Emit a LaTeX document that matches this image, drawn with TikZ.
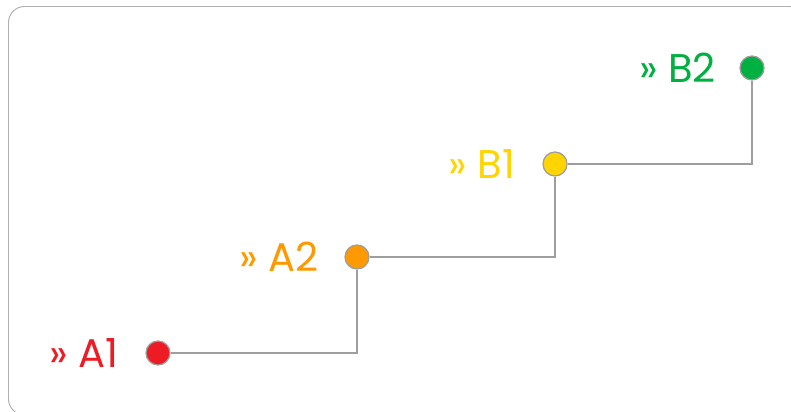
\documentclass[tikz,border=0pt]{standalone}
\usepackage{fontspec}
\setmainfont{Poppins}
\usetikzlibrary{positioning}

\definecolor{stepred}{RGB}{237,28,36}
\definecolor{steporange}{RGB}{255,153,0}
\definecolor{stepyellow}{RGB}{255,212,0}
\definecolor{stepgreen}{RGB}{0,176,64}
\definecolor{linegray}{RGB}{158,158,158}
\definecolor{framegray}{RGB}{176,176,176}

\begin{document}
\begin{tikzpicture}[x=0.025cm, y=-0.025cm,
    dot/.style={circle, draw=linegray, line width=0.9pt, minimum size=0.6cm, inner sep=0pt},
    link/.style={draw=linegray, line width=0.8pt},
    tag/.style={font=\fontsize{28.5}{32}\selectfont, inner sep=0pt}]
    \useasboundingbox (0,0) rectangle (791,412);

    % frame (runs off the right and bottom edges)
    \draw[framegray, line width=0.7pt, rounded corners=0.4cm] (8.5,6.5) rectangle (806,415);

    % the four steps
    \node[dot, fill=stepred] (A1) at (158,353) {};
    \node[dot, fill=steporange] (A2) at (357,257) {};
    \node[dot, fill=stepyellow] (B1) at (555,164) {};
    \node[dot, fill=stepgreen] (B2) at (752,68) {};

    % labels
    \node[tag, stepred, left=0.66cm of A1] (tA1) {» A1};
    \node[tag, steporange, left=0.63cm of A2] (tA2) {» A2};
    \node[tag, stepyellow, left=0.67cm of B1] (tB1) {» B1};
    \node[tag, stepgreen, left=0.58cm of B2] (tB2) {» B2};

    % stair connectors
    \draw[link] (A1) -| (A2);
    \draw[link] (A2) -| (B1);
    \draw[link] (B1) -| (B2);
\end{tikzpicture}
\end{document}
